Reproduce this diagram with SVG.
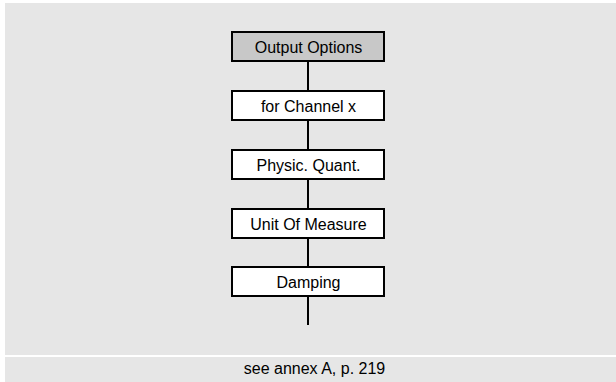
<svg xmlns="http://www.w3.org/2000/svg" width="616" height="382" viewBox="0 0 616 382">
<style>
.bg{fill:#e6e6e6}
.box{fill:#ffffff;stroke:#000;stroke-width:2}
.hd{fill:#c8c8c8}
.t{font-family:"Liberation Sans",Arial,sans-serif;font-size:16px;fill:#000;text-anchor:middle}
.c{stroke:#000;stroke-width:2;fill:none}
</style>
<rect class="bg" x="5" y="3" width="611" height="352"/>
<rect class="bg" x="5" y="357" width="611" height="25"/>
<g id="connectors">
<line class="c" x1="308" y1="61" x2="308" y2="91"/>
<line class="c" x1="308" y1="120" x2="308" y2="150"/>
<line class="c" x1="308" y1="179" x2="308" y2="209"/>
<line class="c" x1="308" y1="238" x2="308" y2="267"/>
<line class="c" x1="308" y1="296" x2="308" y2="325"/>
</g>
<g id="n1"><rect class="box hd" x="232" y="32" width="152" height="29"/><text class="t" x="308.5" y="52.5">Output Options</text></g>
<g id="n2"><rect class="box" x="232" y="91" width="152" height="29"/><text class="t" x="308.5" y="111.5">for Channel x</text></g>
<g id="n3"><rect class="box" x="232" y="150" width="152" height="29"/><text class="t" x="308.5" y="170.5">Physic. Quant.</text></g>
<g id="n4"><rect class="box" x="232" y="209" width="152" height="29"/><text class="t" x="308.5" y="229.5">Unit Of Measure</text></g>
<g id="n5"><rect class="box" x="232" y="267" width="152" height="29"/><text class="t" x="308.5" y="287.5">Damping</text></g>
<text class="t" x="314.5" y="374">see annex A, p. 219</text>
</svg>
